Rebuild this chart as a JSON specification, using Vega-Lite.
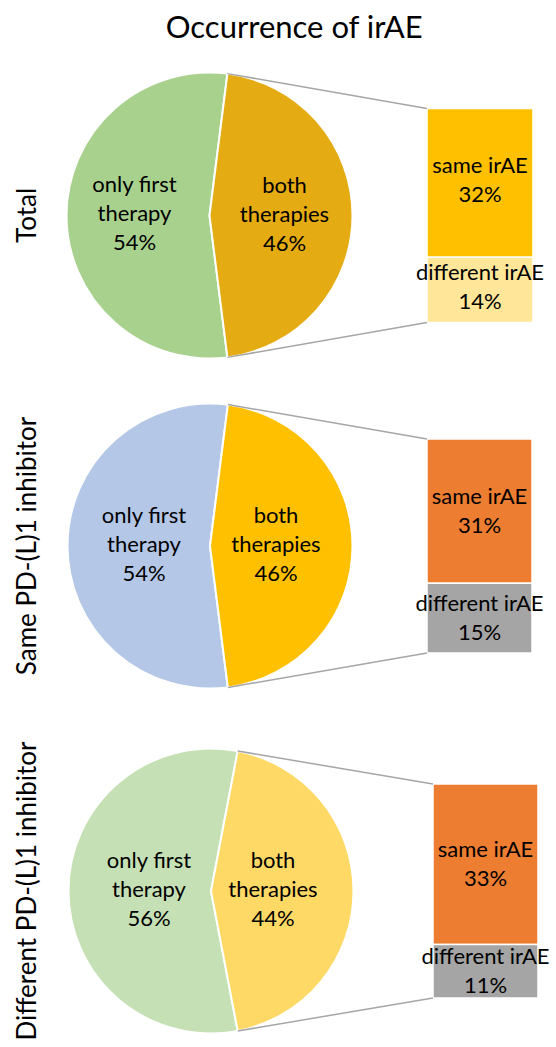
{
  "$schema": "https://vega.github.io/schema/vega-lite/v6.json",
  "background": "white",
  "padding": {"left": 14, "top": 12, "right": 0, "bottom": 0},
  "title": {"text": "Occurrence of irAE", "font": "Lato", "fontSize": 31, "fontWeight": "normal", "color": "#000", "anchor": "middle", "offset": 24, "dx": 12},
  "bounds": "flush",
  "spacing": 50,
  "config": {"view": {"stroke": null}, "axis": {"disable": true}, "font": "Lato"},
  "resolve": {"scale": {"color": "independent"}},
  "datasets": {
    "pie": [
      {"group": "Total", "seg": "only first therapy", "label": "only first\ntherapy", "pct": 0.54},
      {"group": "Total", "seg": "both therapies", "label": "both\ntherapies", "pct": 0.46},
      {"group": "Same PD-(L)1 inhibitor", "seg": "only first therapy", "label": "only first\ntherapy", "pct": 0.54},
      {"group": "Same PD-(L)1 inhibitor", "seg": "both therapies", "label": "both\ntherapies", "pct": 0.46},
      {"group": "Different PD-(L)1 inhibitor", "seg": "only first therapy", "label": "only first\ntherapy", "pct": 0.56},
      {"group": "Different PD-(L)1 inhibitor", "seg": "both therapies", "label": "both\ntherapies", "pct": 0.44}
    ],
    "bar": [
      {"group": "Total", "seg": "same irAE", "label": "same irAE", "pct": 0.32},
      {"group": "Total", "seg": "different irAE", "label": "different irAE", "pct": 0.14},
      {"group": "Same PD-(L)1 inhibitor", "seg": "same irAE", "label": "same irAE", "pct": 0.31},
      {"group": "Same PD-(L)1 inhibitor", "seg": "different irAE", "label": "different irAE", "pct": 0.15},
      {"group": "Different PD-(L)1 inhibitor", "seg": "same irAE", "label": "same irAE", "pct": 0.33},
      {"group": "Different PD-(L)1 inhibitor", "seg": "different irAE", "label": "different irAE", "pct": 0.11}
    ]
  },
  "vconcat": [
    {
      "width": 500, "height": 271,
      "title": {"text": "Total", "orient": "left", "anchor": "middle", "font": "Lato", "fontSize": 26, "fontWeight": "normal", "color": "#000", "offset": 8},
      "layer": [
        {"data": {"name": "pie"}, "transform": [{"filter": "datum.group === 'Total'"}],
         "mark": {"type": "arc", "outerRadius": 143, "stroke": "white", "strokeWidth": 2},
         "encoding": {
           "x": {"datum": 32.1, "type": "quantitative", "scale": {"domain": [0, 100], "nice": false, "zero": false, "padding": 0}},
           "theta": {"field": "pct", "type": "quantitative", "stack": true, "scale": {"range": [0.1257, 6.4089]}},
           "order": {"field": "seg", "sort": "ascending"},
           "color": {"field": "seg", "type": "nominal", "legend": null, "scale": {"domain": ["only first therapy", "both therapies", "same irAE", "different irAE"], "range": ["#A9D18E", "#E5AB12", "#FFC000", "#FFE699"]}}
         }},
        {"data": {"name": "pie"}, "transform": [{"filter": "datum.group === 'Total'"}],
         "mark": {"type": "text", "radius": 75, "baseline": "top", "dy": -40, "lineBreak": "\n", "lineHeight": 29, "font": "Lato", "fontSize": 22, "color": "#000"},
         "encoding": {
           "x": {"datum": 32.1, "type": "quantitative"},
           "theta": {"field": "pct", "type": "quantitative", "stack": true},
           "order": {"field": "seg", "sort": "ascending"},
           "text": {"field": "label", "type": "nominal"}
         }},
        {"data": {"name": "pie"}, "transform": [{"filter": "datum.group === 'Total'"}],
         "mark": {"type": "text", "radius": 75, "baseline": "top", "dy": 18, "font": "Lato", "fontSize": 22, "color": "#000"},
         "encoding": {
           "x": {"datum": 32.1, "type": "quantitative"},
           "theta": {"field": "pct", "type": "quantitative", "stack": true},
           "order": {"field": "seg", "sort": "ascending"},
           "text": {"field": "pct", "type": "quantitative", "format": ".0%"}
         }},
        {"data": {"name": "bar"}, "transform": [{"filter": "datum.group === 'Total'"}],
         "mark": {"type": "bar", "orient": "vertical", "stroke": "white", "strokeWidth": 1.5},
         "encoding": {
           "x": {"datum": 75.6, "type": "quantitative"},
           "x2": {"datum": 96.8},
           "y": {"field": "pct", "type": "quantitative", "stack": "normalize", "scale": {"domain": [-0.1332, 1.1332], "nice": false, "zero": false, "padding": 0}},
           "order": {"field": "seg", "sort": "ascending"},
           "color": {"field": "seg", "type": "nominal", "legend": null}
         }},
        {"data": {"name": "bar"}, "transform": [{"filter": "datum.group === 'Total'"}],
         "mark": {"type": "text", "baseline": "alphabetic", "dy": -10, "font": "Lato", "fontSize": 22, "color": "#000"},
         "encoding": {
           "x": {"datum": 86.2, "type": "quantitative"},
           "y": {"field": "pct", "type": "quantitative", "stack": "normalize", "bandPosition": 0.5},
           "order": {"field": "seg", "sort": "ascending"},
           "text": {"field": "label", "type": "nominal"}
         }},
        {"data": {"name": "bar"}, "transform": [{"filter": "datum.group === 'Total'"}],
         "mark": {"type": "text", "baseline": "alphabetic", "dy": 19, "font": "Lato", "fontSize": 22, "color": "#000"},
         "encoding": {
           "x": {"datum": 86.2, "type": "quantitative"},
           "y": {"field": "pct", "type": "quantitative", "stack": "normalize", "bandPosition": 0.5},
           "order": {"field": "seg", "sort": "ascending"},
           "text": {"field": "pct", "type": "quantitative", "format": ".0%"}
         }},
        {"data": {"name": "pie"}, "transform": [{"filter": "datum.group === 'Total' && datum.seg === 'both therapies'"}],
         "mark": {"type": "rule", "color": "#A6A6A6", "strokeWidth": 1.5},
         "encoding": {
           "x": {"datum": 35.68, "type": "quantitative"}, "y": {"datum": 1.163, "type": "quantitative"},
           "x2": {"datum": 75.6}, "y2": {"datum": 1}
         }},
        {"data": {"name": "pie"}, "transform": [{"filter": "datum.group === 'Total' && datum.seg === 'both therapies'"}],
         "mark": {"type": "rule", "color": "#A6A6A6", "strokeWidth": 1.5},
         "encoding": {
           "x": {"datum": 35.68, "type": "quantitative"}, "y": {"datum": -0.163, "type": "quantitative"},
           "x2": {"datum": 75.6}, "y2": {"datum": 0}
         }}
      ]
    },
    {
      "width": 500, "height": 290,
      "title": {"text": "Same PD-(L)1 inhibitor", "orient": "left", "anchor": "middle", "font": "Lato", "fontSize": 26, "fontWeight": "normal", "color": "#000", "offset": 8},
      "layer": [
        {"data": {"name": "pie"}, "transform": [{"filter": "datum.group === 'Same PD-(L)1 inhibitor'"}],
         "mark": {"type": "arc", "outerRadius": 142.5, "stroke": "white", "strokeWidth": 2},
         "encoding": {
           "x": {"datum": 32.2, "type": "quantitative", "scale": {"domain": [0, 100], "nice": false, "zero": false, "padding": 0}},
           "theta": {"field": "pct", "type": "quantitative", "stack": true, "scale": {"range": [0.1257, 6.4089]}},
           "order": {"field": "seg", "sort": "ascending"},
           "color": {"field": "seg", "type": "nominal", "legend": null, "scale": {"domain": ["only first therapy", "both therapies", "same irAE", "different irAE"], "range": ["#B4C7E7", "#FFC000", "#ED7D31", "#A5A5A5"]}}
         }},
        {"data": {"name": "pie"}, "transform": [{"filter": "datum.group === 'Same PD-(L)1 inhibitor'"}],
         "mark": {"type": "text", "radius": 66, "baseline": "top", "dy": -40, "lineBreak": "\n", "lineHeight": 29, "font": "Lato", "fontSize": 22, "color": "#000"},
         "encoding": {
           "x": {"datum": 32.2, "type": "quantitative"},
           "theta": {"field": "pct", "type": "quantitative", "stack": true},
           "order": {"field": "seg", "sort": "ascending"},
           "text": {"field": "label", "type": "nominal"}
         }},
        {"data": {"name": "pie"}, "transform": [{"filter": "datum.group === 'Same PD-(L)1 inhibitor'"}],
         "mark": {"type": "text", "radius": 66, "baseline": "top", "dy": 18, "font": "Lato", "fontSize": 22, "color": "#000"},
         "encoding": {
           "x": {"datum": 32.2, "type": "quantitative"},
           "theta": {"field": "pct", "type": "quantitative", "stack": true},
           "order": {"field": "seg", "sort": "ascending"},
           "text": {"field": "pct", "type": "quantitative", "format": ".0%"}
         }},
        {"data": {"name": "bar"}, "transform": [{"filter": "datum.group === 'Same PD-(L)1 inhibitor'"}],
         "mark": {"type": "bar", "orient": "vertical", "stroke": "white", "strokeWidth": 1.5},
         "encoding": {
           "x": {"datum": 75.6, "type": "quantitative"},
           "x2": {"datum": 96.6},
           "y": {"field": "pct", "type": "quantitative", "stack": "normalize", "scale": {"domain": [-0.1776, 1.1776], "nice": false, "zero": false, "padding": 0}},
           "order": {"field": "seg", "sort": "ascending"},
           "color": {"field": "seg", "type": "nominal", "legend": null}
         }},
        {"data": {"name": "bar"}, "transform": [{"filter": "datum.group === 'Same PD-(L)1 inhibitor'"}],
         "mark": {"type": "text", "baseline": "alphabetic", "dy": -7, "font": "Lato", "fontSize": 22, "color": "#000"},
         "encoding": {
           "x": {"datum": 86.1, "type": "quantitative"},
           "y": {"field": "pct", "type": "quantitative", "stack": "normalize", "bandPosition": 0.5},
           "order": {"field": "seg", "sort": "ascending"},
           "text": {"field": "label", "type": "nominal"}
         }},
        {"data": {"name": "bar"}, "transform": [{"filter": "datum.group === 'Same PD-(L)1 inhibitor'"}],
         "mark": {"type": "text", "baseline": "alphabetic", "dy": 22, "font": "Lato", "fontSize": 22, "color": "#000"},
         "encoding": {
           "x": {"datum": 86.1, "type": "quantitative"},
           "y": {"field": "pct", "type": "quantitative", "stack": "normalize", "bandPosition": 0.5},
           "order": {"field": "seg", "sort": "ascending"},
           "text": {"field": "pct", "type": "quantitative", "format": ".0%"}
         }},
        {"data": {"name": "pie"}, "transform": [{"filter": "datum.group === 'Same PD-(L)1 inhibitor' && datum.seg === 'both therapies'"}],
         "mark": {"type": "rule", "color": "#A6A6A6", "strokeWidth": 1.5},
         "encoding": {
           "x": {"datum": 35.78, "type": "quantitative"}, "y": {"datum": 1.161, "type": "quantitative"},
           "x2": {"datum": 75.6}, "y2": {"datum": 1}
         }},
        {"data": {"name": "pie"}, "transform": [{"filter": "datum.group === 'Same PD-(L)1 inhibitor' && datum.seg === 'both therapies'"}],
         "mark": {"type": "rule", "color": "#A6A6A6", "strokeWidth": 1.5},
         "encoding": {
           "x": {"datum": 35.78, "type": "quantitative"}, "y": {"datum": -0.161, "type": "quantitative"},
           "x2": {"datum": 75.6}, "y2": {"datum": 0}
         }}
      ]
    },
    {
      "width": 500, "height": 300,
      "title": {"text": "Different PD-(L)1 inhibitor", "orient": "left", "anchor": "middle", "font": "Lato", "fontSize": 26, "fontWeight": "normal", "color": "#000", "offset": 8},
      "layer": [
        {"data": {"name": "pie"}, "transform": [{"filter": "datum.group === 'Different PD-(L)1 inhibitor'"}],
         "mark": {"type": "arc", "outerRadius": 142.5, "stroke": "white", "strokeWidth": 2},
         "encoding": {
           "x": {"datum": 32.4, "type": "quantitative", "scale": {"domain": [0, 100], "nice": false, "zero": false, "padding": 0}},
           "theta": {"field": "pct", "type": "quantitative", "stack": true, "scale": {"range": [0.1885, 6.4717]}},
           "order": {"field": "seg", "sort": "ascending"},
           "color": {"field": "seg", "type": "nominal", "legend": null, "scale": {"domain": ["only first therapy", "both therapies", "same irAE", "different irAE"], "range": ["#C5E0B4", "#FFD966", "#ED7D31", "#A5A5A5"]}}
         }},
        {"data": {"name": "pie"}, "transform": [{"filter": "datum.group === 'Different PD-(L)1 inhibitor'"}],
         "mark": {"type": "text", "radius": 62, "baseline": "top", "dy": -40, "lineBreak": "\n", "lineHeight": 29, "font": "Lato", "fontSize": 22, "color": "#000"},
         "encoding": {
           "x": {"datum": 32.4, "type": "quantitative"},
           "theta": {"field": "pct", "type": "quantitative", "stack": true},
           "order": {"field": "seg", "sort": "ascending"},
           "text": {"field": "label", "type": "nominal"}
         }},
        {"data": {"name": "pie"}, "transform": [{"filter": "datum.group === 'Different PD-(L)1 inhibitor'"}],
         "mark": {"type": "text", "radius": 62, "baseline": "top", "dy": 18, "font": "Lato", "fontSize": 22, "color": "#000"},
         "encoding": {
           "x": {"datum": 32.4, "type": "quantitative"},
           "theta": {"field": "pct", "type": "quantitative", "stack": true},
           "order": {"field": "seg", "sort": "ascending"},
           "text": {"field": "pct", "type": "quantitative", "format": ".0%"}
         }},
        {"data": {"name": "bar"}, "transform": [{"filter": "datum.group === 'Different PD-(L)1 inhibitor'"}],
         "mark": {"type": "bar", "orient": "vertical", "stroke": "white", "strokeWidth": 1.5},
         "encoding": {
           "x": {"datum": 76.8, "type": "quantitative"},
           "x2": {"datum": 97.8},
           "y": {"field": "pct", "type": "quantitative", "stack": "normalize", "scale": {"domain": [-0.2009, 1.2009], "nice": false, "zero": false, "padding": 0}},
           "order": {"field": "seg", "sort": "ascending"},
           "color": {"field": "seg", "type": "nominal", "legend": null}
         }},
        {"data": {"name": "bar"}, "transform": [{"filter": "datum.group === 'Different PD-(L)1 inhibitor'"}],
         "mark": {"type": "text", "baseline": "alphabetic", "dy": -7, "font": "Lato", "fontSize": 22, "color": "#000"},
         "encoding": {
           "x": {"datum": 87.3, "type": "quantitative"},
           "y": {"field": "pct", "type": "quantitative", "stack": "normalize", "bandPosition": 0.5},
           "order": {"field": "seg", "sort": "ascending"},
           "text": {"field": "label", "type": "nominal"}
         }},
        {"data": {"name": "bar"}, "transform": [{"filter": "datum.group === 'Different PD-(L)1 inhibitor'"}],
         "mark": {"type": "text", "baseline": "alphabetic", "dy": 22, "font": "Lato", "fontSize": 22, "color": "#000"},
         "encoding": {
           "x": {"datum": 87.3, "type": "quantitative"},
           "y": {"field": "pct", "type": "quantitative", "stack": "normalize", "bandPosition": 0.5},
           "order": {"field": "seg", "sort": "ascending"},
           "text": {"field": "pct", "type": "quantitative", "format": ".0%"}
         }},
        {"data": {"name": "pie"}, "transform": [{"filter": "datum.group === 'Different PD-(L)1 inhibitor' && datum.seg === 'both therapies'"}],
         "mark": {"type": "rule", "color": "#A6A6A6", "strokeWidth": 1.5},
         "encoding": {
           "x": {"datum": 37.74, "type": "quantitative"}, "y": {"datum": 1.154, "type": "quantitative"},
           "x2": {"datum": 76.8}, "y2": {"datum": 1}
         }},
        {"data": {"name": "pie"}, "transform": [{"filter": "datum.group === 'Different PD-(L)1 inhibitor' && datum.seg === 'both therapies'"}],
         "mark": {"type": "rule", "color": "#A6A6A6", "strokeWidth": 1.5},
         "encoding": {
           "x": {"datum": 37.74, "type": "quantitative"}, "y": {"datum": -0.154, "type": "quantitative"},
           "x2": {"datum": 76.8}, "y2": {"datum": 0}
         }}
      ]
    }
  ]
}
